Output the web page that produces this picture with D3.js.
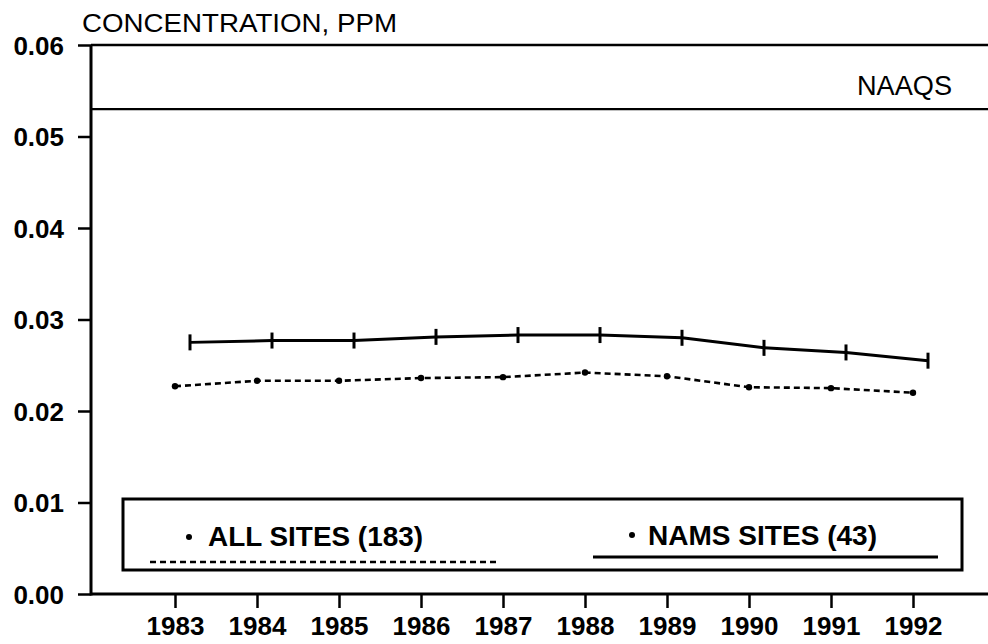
<!DOCTYPE html>
<html>
<head>
<meta charset="utf-8">
<script src="https://cdn.jsdelivr.net/npm/d3@7"></script>
<style>
  html, body { margin: 0; padding: 0; background: #fff; }
  svg { display: block; }
  text { font-family: "Liberation Sans", Arial, Helvetica, sans-serif; fill: #000; }
</style>
</head>
<body>
<svg id="chart" width="988" height="644"></svg>
<script>
// ---- data ----
const years = [1983, 1984, 1985, 1986, 1987, 1988, 1989, 1990, 1991, 1992];
const allSites = [0.0227, 0.0233, 0.0233, 0.0236, 0.0237, 0.0242, 0.0238, 0.0226, 0.0225, 0.0220];
const namsSites = [0.0275, 0.0277, 0.0277, 0.0281, 0.0283, 0.0283, 0.0280, 0.0269, 0.0264, 0.0255];
const yTicks = [0.00, 0.01, 0.02, 0.03, 0.04, 0.05, 0.06];
const naaqs = 0.053;
const titleText = "CONCENTRATION, PPM";
const naaqsLabel = "NAAQS";
const legendAll = "ALL SITES  (183)";
const legendNams = "NAMS SITES  (43)";

// ---- layout ----
const W = 988, H = 644;
const axisX = 91;
const svg = d3.select("#chart");

const x = d3.scaleLinear().domain([1983, 1992]).range([175, 913]);
const y = d3.scaleLinear().domain([0, 0.06]).range([594, 45]);
const namsShift = 15;

// title
svg.append("text")
  .attr("x", 82).attr("y", 32)
  .attr("font-size", 26)
  .attr("textLength", 315).attr("lengthAdjust", "spacingAndGlyphs")
  .text(titleText);

// y axis
const yAxis = d3.axisLeft(y).tickValues(yTicks).tickSize(13).tickPadding(14)
  .tickFormat(d3.format(".2f"));
const gy = svg.append("g").attr("transform", `translate(${axisX},0)`).call(yAxis);
gy.select(".domain").remove();
gy.selectAll(".tick line").attr("stroke", "#000").attr("stroke-width", 2.5);
gy.selectAll(".tick text")
  .attr("font-size", 26).attr("font-weight", "bold")
  .attr("font-family", "'Liberation Sans', Arial, sans-serif")
  .attr("fill", "#000").attr("dy", "0.36em");
svg.append("line")
  .attr("x1", axisX).attr("x2", axisX)
  .attr("y1", y(0.06)).attr("y2", y(0) + 1.5)
  .attr("stroke", "#000").attr("stroke-width", 3);

// top frame line
svg.append("line")
  .attr("x1", axisX).attr("x2", W)
  .attr("y1", y(0.06)).attr("y2", y(0.06))
  .attr("stroke", "#000").attr("stroke-width", 2.5);

// x axis
const xAxis = d3.axisBottom(x).tickValues(years).tickSize(14).tickPadding(8)
  .tickFormat(d3.format("d"));
const gx = svg.append("g").attr("transform", `translate(0,${y(0)})`).call(xAxis);
gx.select(".domain").remove();
gx.selectAll(".tick line").attr("stroke", "#000").attr("stroke-width", 2.5);
gx.selectAll(".tick text")
  .attr("font-size", 26).attr("font-weight", "bold")
  .attr("font-family", "'Liberation Sans', Arial, sans-serif")
  .attr("fill", "#000").attr("dy", "0.72em");
svg.append("line")
  .attr("x1", axisX).attr("x2", W)
  .attr("y1", y(0)).attr("y2", y(0))
  .attr("stroke", "#000").attr("stroke-width", 3);

// NAAQS line
svg.append("line")
  .attr("x1", axisX).attr("x2", W)
  .attr("y1", y(naaqs)).attr("y2", y(naaqs))
  .attr("stroke", "#000").attr("stroke-width", 2.2);
svg.append("text")
  .attr("x", 857).attr("y", y(naaqs) - 14)
  .attr("font-size", 27)
  .attr("textLength", 95).attr("lengthAdjust", "spacingAndGlyphs")
  .text(naaqsLabel);

// series data
const allData = years.map((yr, i) => ({ yr, v: allSites[i] }));
const namsData = years.map((yr, i) => ({ yr, v: namsSites[i] }));

// ALL SITES (dashed)
svg.append("path").datum(allData)
  .attr("fill", "none").attr("stroke", "#000").attr("stroke-width", 2.6)
  .attr("stroke-dasharray", "6,4")
  .attr("d", d3.line().x(d => x(d.yr)).y(d => y(d.v)));
svg.selectAll(".allpt").data(allData).enter().append("circle")
  .attr("class", "allpt")
  .attr("cx", d => x(d.yr)).attr("cy", d => y(d.v)).attr("r", 3.2)
  .attr("fill", "#000");

// NAMS SITES (solid with vertical ticks)
svg.append("path").datum(namsData)
  .attr("fill", "none").attr("stroke", "#000").attr("stroke-width", 3)
  .attr("d", d3.line().x(d => x(d.yr) + namsShift).y(d => y(d.v)));
svg.selectAll(".namspt").data(namsData).enter().append("line")
  .attr("class", "namspt")
  .attr("x1", d => x(d.yr) + namsShift).attr("x2", d => x(d.yr) + namsShift)
  .attr("y1", d => y(d.v) - 8).attr("y2", d => y(d.v) + 8)
  .attr("stroke", "#000").attr("stroke-width", 3);

// legend box
const lg = svg.append("g");
lg.append("rect")
  .attr("x", 123).attr("y", 499).attr("width", 839).attr("height", 71)
  .attr("fill", "none").attr("stroke", "#000").attr("stroke-width", 3);
lg.append("circle").attr("cx", 189).attr("cy", 537).attr("r", 3).attr("fill", "#000");
lg.append("text")
  .attr("x", 208).attr("y", 546)
  .attr("font-size", 28).attr("font-weight", "bold")
  .attr("textLength", 215).attr("lengthAdjust", "spacingAndGlyphs")
  .text(legendAll);
lg.append("line")
  .attr("x1", 150).attr("x2", 498).attr("y1", 562).attr("y2", 562)
  .attr("stroke", "#000").attr("stroke-width", 2.6).attr("stroke-dasharray", "6,4");

lg.append("circle").attr("cx", 632).attr("cy", 535).attr("r", 3).attr("fill", "#000");
lg.append("text")
  .attr("x", 648).attr("y", 545)
  .attr("font-size", 28).attr("font-weight", "bold")
  .attr("textLength", 229).attr("lengthAdjust", "spacingAndGlyphs")
  .text(legendNams);
lg.append("line")
  .attr("x1", 593).attr("x2", 938).attr("y1", 557).attr("y2", 557)
  .attr("stroke", "#000").attr("stroke-width", 3);
</script>
</body>
</html>
